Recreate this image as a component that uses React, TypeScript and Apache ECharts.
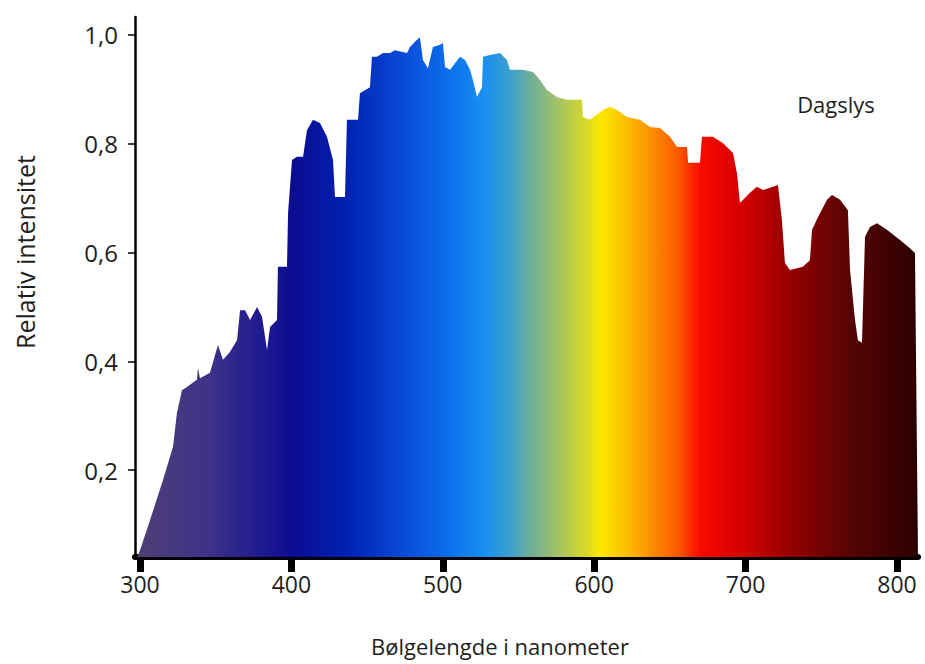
import React, { useEffect, useRef } from "react";
import * as echarts from "echarts";

const wavelengths = [298.0, 300.0, 306.6, 315.2, 321.8, 324.4, 327.7, 331.0, 337.6, 338.3, 339.6, 346.2, 351.5, 354.8, 359.4, 364.1, 366.1, 369.4, 372.7, 377.3, 380.6, 383.9, 385.9, 390.5, 391.1, 397.1, 397.8, 400.4, 403.7, 407.7, 410.3, 414.3, 418.9, 423.5, 427.5, 428.8, 435.4, 436.7, 444.0, 445.3, 451.9, 453.2, 456.5, 460.5, 465.1, 468.4, 476.4, 478.3, 483.0, 484.9, 486.9, 490.2, 493.5, 498.2, 500.1, 501.5, 504.8, 511.4, 514.7, 518.0, 519.9, 522.6, 525.9, 526.6, 531.2, 537.8, 542.4, 544.4, 553.0, 559.6, 564.2, 568.8, 575.4, 582.0, 591.9, 592.6, 597.2, 605.8, 610.4, 615.1, 621.7, 630.3, 636.9, 643.5, 650.1, 654.7, 661.3, 662.0, 669.9, 671.2, 678.5, 685.1, 691.7, 694.3, 696.3, 702.9, 707.5, 711.5, 718.1, 721.4, 724.0, 726.0, 729.3, 737.9, 742.5, 743.9, 747.8, 753.8, 757.1, 762.4, 767.6, 769.0, 772.3, 774.2, 776.9, 778.9, 782.2, 786.8, 793.4, 802.0, 808.6, 811.9, 813.9];

const intensity = [0.040, 0.053, 0.108, 0.182, 0.243, 0.305, 0.347, 0.353, 0.366, 0.388, 0.369, 0.379, 0.430, 0.403, 0.417, 0.439, 0.494, 0.494, 0.476, 0.500, 0.482, 0.421, 0.463, 0.476, 0.574, 0.574, 0.673, 0.770, 0.776, 0.776, 0.825, 0.844, 0.838, 0.813, 0.770, 0.702, 0.702, 0.844, 0.844, 0.893, 0.904, 0.960, 0.960, 0.967, 0.967, 0.972, 0.967, 0.978, 0.991, 0.996, 0.954, 0.939, 0.978, 0.982, 0.985, 0.941, 0.936, 0.960, 0.954, 0.936, 0.917, 0.886, 0.904, 0.960, 0.963, 0.967, 0.954, 0.936, 0.936, 0.932, 0.917, 0.899, 0.886, 0.881, 0.881, 0.849, 0.844, 0.862, 0.868, 0.862, 0.849, 0.844, 0.831, 0.829, 0.813, 0.794, 0.794, 0.765, 0.765, 0.813, 0.813, 0.801, 0.783, 0.746, 0.691, 0.710, 0.721, 0.715, 0.721, 0.724, 0.660, 0.581, 0.568, 0.574, 0.586, 0.642, 0.665, 0.697, 0.706, 0.697, 0.678, 0.568, 0.476, 0.439, 0.434, 0.629, 0.647, 0.654, 0.642, 0.623, 0.608, 0.599, 0.040];

const xTicks = [300, 400, 500, 600, 700, 800];
const yTicks = [0.2, 0.4, 0.6, 0.8, 1.0];

const xTitle = "Bølgelengde i nanometer";
const yTitle = "Relativ intensitet";
const seriesLabel = "Dagslys";

const FONT = "'Open Sans', 'Noto Sans', sans-serif";
const TEXT = "#1e1e1e";

export default function App() {
  const ref = useRef<HTMLDivElement>(null);

  useEffect(() => {
    if (!ref.current) return;
    const chart = echarts.init(ref.current, undefined, { renderer: "svg" });

    const gradient = new echarts.graphic.LinearGradient(
      137, 0, 918, 0,
      [
        { offset: 0.0, color: "#4e3f74" },
        { offset: 0.09, color: "#3f3288" },
        { offset: 0.2, color: "#0c0c92" },
        { offset: 0.27, color: "#0022b2" },
        { offset: 0.34, color: "#0a4ad8" },
        { offset: 0.40, color: "#0a70ec" },
        { offset: 0.446, color: "#1a90f0" },
        { offset: 0.478, color: "#3ca0cc" },
        { offset: 0.503, color: "#6cae9a" },
        { offset: 0.542, color: "#a8c460" },
        { offset: 0.574, color: "#d8d82a" },
        { offset: 0.593, color: "#fbe700" },
        { offset: 0.625, color: "#fcc000" },
        { offset: 0.657, color: "#fc9200" },
        { offset: 0.695, color: "#fc5500" },
        { offset: 0.721, color: "#fb0a00" },
        { offset: 0.772, color: "#d60000" },
        { offset: 0.836, color: "#950000" },
        { offset: 0.913, color: "#560404" },
        { offset: 1.0, color: "#2c0000" },
      ],
      true
    );

    chart.setOption({
      animation: false,
      backgroundColor: "#ffffff",
      grid: { left: 135, right: 7, top: 17, bottom: 107, containLabel: false },
      xAxis: {
        type: "value",
        min: 296.7,
        max: 813.9,
        splitLine: { show: false },
        axisLine: { show: true, onZero: false, lineStyle: { color: "#000", width: 6 } },
        axisTick: {
          show: true,
          customValues: xTicks,
          length: 15,
          lineStyle: { color: "#000", width: 7 },
        },
        axisLabel: {
          customValues: xTicks,
          margin: 15,
          fontFamily: FONT,
          fontSize: 23,
          color: TEXT,
        },
      },
      yAxis: {
        type: "value",
        min: 0.0404,
        max: 1.033,
        splitLine: { show: false },
        axisLine: { show: true, lineStyle: { color: "#000", width: 2.5 } },
        axisTick: {
          show: true,
          customValues: yTicks,
          length: 7,
          lineStyle: { color: "#000", width: 1.5 },
        },
        axisLabel: {
          customValues: yTicks,
          margin: 17,
          fontFamily: FONT,
          fontSize: 24,
          color: TEXT,
          formatter: (v: number) => v.toFixed(1).replace(".", ","),
        },
      },
      series: [
        {
          type: "line",
          data: wavelengths.map((w, i) => [w, intensity[i]]),
          symbol: "none",
          lineStyle: { width: 0 },
          areaStyle: { color: gradient, opacity: 1, origin: "start" },
          z: 1,
        },
      ],
      graphic: [
        {
          type: "text",
          x: 25,
          y: 252,
          rotation: Math.PI / 2,
          style: {
            text: yTitle,
            font: `25px ${FONT}`,
            fill: TEXT,
            align: "center",
            verticalAlign: "middle",
          },
        },
        {
          type: "text",
          x: 500,
          y: 646,
          style: {
            text: xTitle,
            font: `22px ${FONT}`,
            fill: TEXT,
            align: "center",
            verticalAlign: "middle",
          },
        },
        {
          type: "text",
          x: 836,
          y: 104,
          style: {
            text: seriesLabel,
            font: `22px ${FONT}`,
            fill: TEXT,
            align: "center",
            verticalAlign: "middle",
          },
        },
      ],
    });

    return () => chart.dispose();
  }, []);

  return (
    <div
      ref={ref}
      style={{ position: "fixed", left: 0, top: 0, width: 925, height: 664 }}
    />
  );
}
